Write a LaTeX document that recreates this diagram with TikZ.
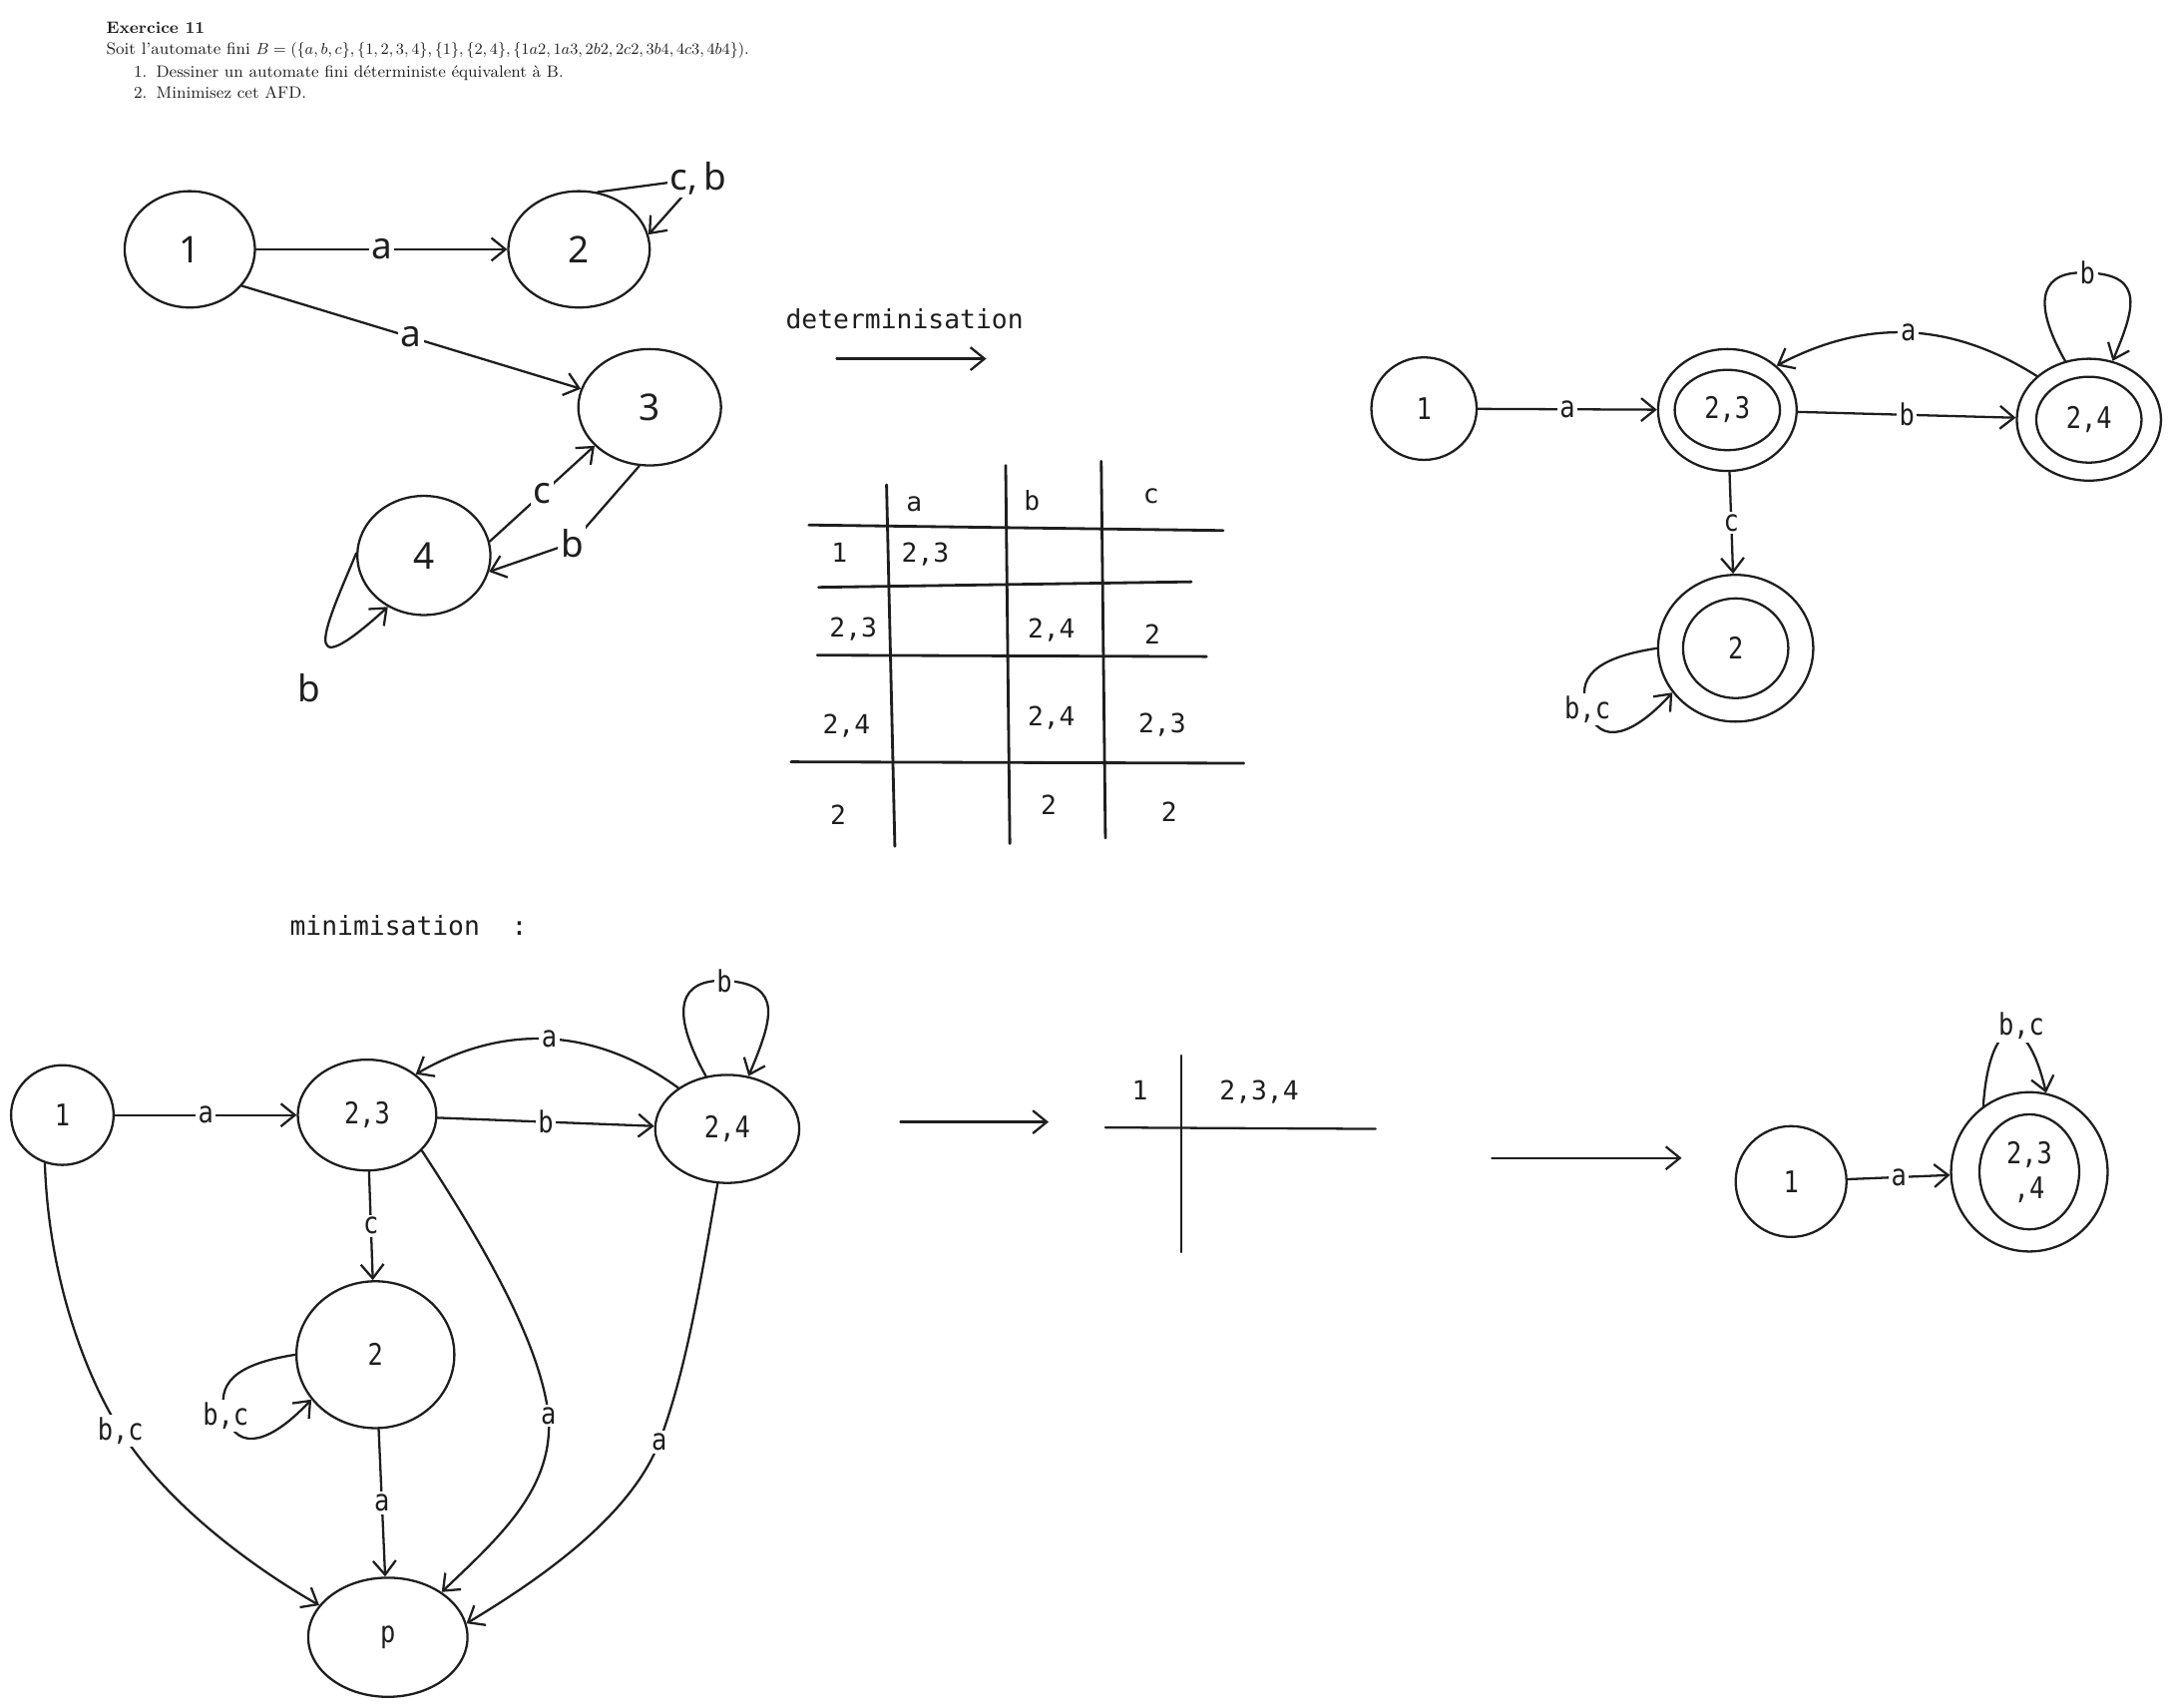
\documentclass[tikz,border=0pt]{standalone}
\usepackage{amsmath,amssymb}
\usepackage{fontspec}
\usepackage{tikz}
\usetikzlibrary{shapes.geometric,arrows.meta}
\newfontfamily\handfont{Noto Sans}
\newfontfamily\codefont{DejaVu Sans Mono}
\newfontfamily\labfont[FakeStretch=0.85]{DejaVu Sans Mono}
\definecolor{ink}{HTML}{1E1E1E}
\newlength{\pxu}
\setlength{\pxu}{0.02777cm}

\begin{document}
\begin{tikzpicture}[x=\pxu, y=-\pxu, line width=1.3pt, line cap=round, line join=round, ink,
	etat/.style 2 args={draw, ellipse, inner sep=0pt, minimum width=#1\pxu, minimum height=#2\pxu},
	lbl/.style={fill=white, inner sep=1.5pt},
	arr/.style={-{Straight Barb[length=8pt,width=13pt]}},
	texte/.style={anchor=base west, inner sep=0pt, font=\fontsize{9.45}{11}\selectfont},
	hand/.style={font=\handfont\fontsize{21}{24}\selectfont},
	code/.style={font=\codefont\fontsize{15}{18}\selectfont},
	lab/.style={font=\labfont\fontsize{17}{20}\selectfont},
	grille/.style={line width=1.6pt}]
	\useasboundingbox (0,0) rectangle (1568,1233);

	% enonce
	\node[texte, font=\fontsize{9.45}{11}\selectfont\bfseries] (titre) at (76,24) {Exercice 11};
	\node[texte] (enonce) at (76,39) {Soit l'automate fini $B=(\{a,b,c\},\{1,2,3,4\},\{1\},\{2,4\},\{1a2,1a3,2b2,2c2,3b4,4c3,4b4\})$.};
	\node[texte, anchor=base east] (num1) at (107,56) {1.};
	\node[texte] (quest1) at (112,56) {Dessiner un automate fini déterministe équivalent à B.};
	\node[texte, anchor=base east] (num2) at (107,71) {2.};
	\node[texte] (quest2) at (112,71) {Minimisez cet AFD.};

	% automate B
	\begin{scope}[hand]
		\node[etat={94}{84}] (n1) at (137,180) {1};
		\node[etat={102}{84}] (n2) at (418,180) {2};
		\node[etat={103}{84}] (n3) at (469,294) {3};
		\node[etat={96}{86}] (n4) at (306,401) {4};
		\draw[arr] (n1) -- node[lbl] {a} (n2);
		\draw[arr] (n1.-35) -- node[lbl] {a} (n3.165);
		\draw[arr] (n2.72) -- (504,129) node[lbl] (cb) {c,\,b} -- (n2.12);
		\draw[arr] (n4.12) -- node[lbl] {c} (n3.215);
		\draw[arr] (n3.-100) -- (413,392) node[lbl] {b} -- (n4.-14);
		\draw[arr] (n4.178) .. controls (236,450) and (212,500) .. (n4.-125);
		\node (boucle4) at (223,497) {b};
	\end{scope}

	% determinisation
	\node[code] (det) at (653,230) {determinisation};
	\coordinate (detA) at (604,259);
	\coordinate (detB) at (712,259);
	\draw[arr] (detA) -- (detB);

	\draw[grille] (640,350) -- (646,611);
	\draw[grille] (726,336) -- (729,609);
	\draw[grille] (795,333) -- (798,605);
	\draw[grille] (584,379) -- (883,383);
	\draw[grille] (591,424) -- (860,420);
	\draw[grille] (590,473) -- (871,474);
	\draw[grille] (571,550) -- (898,551);
	\begin{scope}[code]
		\node (ha) at (660,364) {a};
		\node (hb) at (745,361) {b};
		\node (hc) at (831,358) {c};
		\node (r1) at (606,399) {1};
		\node (r1a) at (668,400) {2,3};
		\node (r2) at (616,454) {2,3};
		\node (r2b) at (759,455) {2,4};
		\node (r2c) at (832,458) {2};
		\node (r3) at (611,524) {2,4};
		\node (r3b) at (759,518) {2,4};
		\node (r3c) at (839,523) {2,3};
		\node (r4) at (605,588) {2};
		\node (r4b) at (757,581) {2};
		\node (r4c) at (844,586) {2};
	\end{scope}

	% AFD
	\begin{scope}[lab]
		\node[etat={76}{74}] (d1) at (1028,295) {1};
		\node[etat={100}{88}] (d23) at (1247,296) {};
		\node[etat={76}{58}] (d23i) at (d23) {2,3};
		\node[etat={104}{88}] (d24) at (1508,303) {};
		\node[etat={76}{62}] (d24i) at (d24) {2,4};
		\node[etat={112}{106}] (d2) at (1253,468) {};
		\node[etat={76}{72}] (d2i) at (d2) {2};
		\draw[arr] (d1) -- node[lbl] {a} (d23);
		\draw[arr] (d23) -- node[lbl] {b} (d24);
		\draw[arr] (d24.140) to[bend right=30] node[lbl] {a} (d23.42);
		\draw[arr] (d24.112) .. controls (1465,215) and (1475,195) .. (1507,197) node[lbl] {b} .. controls (1550,198) and (1540,225) .. (d24.68);
		\draw[arr] (d23) -- node[lbl] {c} (d2);
		\draw[arr] (d2.180) .. controls (1150,475) and (1138,490) .. (1146,512) node[lbl] {b,c} .. controls (1155,540) and (1180,530) .. (d2.-145);
	\end{scope}

	% minimisation
	\node[code] (mini) at (295,668) {minimisation\ \ :};
	\begin{scope}[lab]
		\node[etat={74}{72}] (m1) at (45,805) {1};
		\node[etat={100}{80}] (m23) at (265,805) {2,3};
		\node[etat={104}{78}] (m24) at (525,815) {2,4};
		\node[etat={114}{106}] (m2) at (271,978) {2};
		\node[etat={115}{86}] (mp) at (280,1182) {p};
		\draw[arr] (m1) -- node[lbl] {a} (m23);
		\draw[arr] (m23) -- node[lbl] {b} (m24);
		\draw[arr] (m24.140) to[bend right=33] node[lbl] {a} (m23.40);
		\draw[arr] (m24.112) .. controls (482,727) and (492,707) .. (523,708) node[lbl] {b} .. controls (567,710) and (557,737) .. (m24.68);
		\draw[arr] (m23) -- node[lbl] {c} (m2);
		\draw[arr] (m2.180) .. controls (168,985) and (156,1000) .. (163,1022) node[lbl] {b,c} .. controls (172,1050) and (197,1040) .. (m2.-145);
		\draw[arr] (m1.-110) .. controls (35,920) and (60,990) .. (87,1033) node[lbl] {b,c} .. controls (120,1085) and (180,1130) .. (mp.155);
		\draw[arr] (m23.-33) .. controls (350,900) and (390,970) .. (396,1022) node[lbl] {a} .. controls (400,1075) and (360,1110) .. (mp.40);
		\draw[arr] (m2) -- node[lbl] {a} (mp);
		\draw[arr] (m24.-100) .. controls (505,930) and (495,990) .. (476,1041) node[lbl] {a} .. controls (455,1095) and (390,1140) .. (mp.10);
	\end{scope}

	\coordinate (minA) at (650,810);
	\coordinate (minB) at (757,810);
	\draw[arr] (minA) -- (minB);
	\draw (853,762) -- (853,904);
	\draw (798,814) -- (993,815);
	\node[code] (c1) at (823,787) {1};
	\node[code] (c234) at (909,788) {2,3,4};
	\coordinate (finA) at (1077,836);
	\coordinate (finB) at (1214,836);
	\draw[arr] (finA) -- (finB);

	% AFD minimal
	\begin{scope}[lab]
		\node[etat={80}{80}] (f1) at (1293,853) {1};
		\node[etat={113}{115}] (f234) at (1465,846) {};
		\node[etat={72}{83}, align=center] (f234i) at (f234) {2,3\\,4};
		\draw[arr] (f1) -- node[lbl] {a} (f234);
		\draw[arr] (f234.125) .. controls (1436,735) and (1462,725) .. (f234.78) node[lbl, pos=0.5, xshift=7pt, yshift=4pt] {b,c};
	\end{scope}
\end{tikzpicture}
\end{document}
